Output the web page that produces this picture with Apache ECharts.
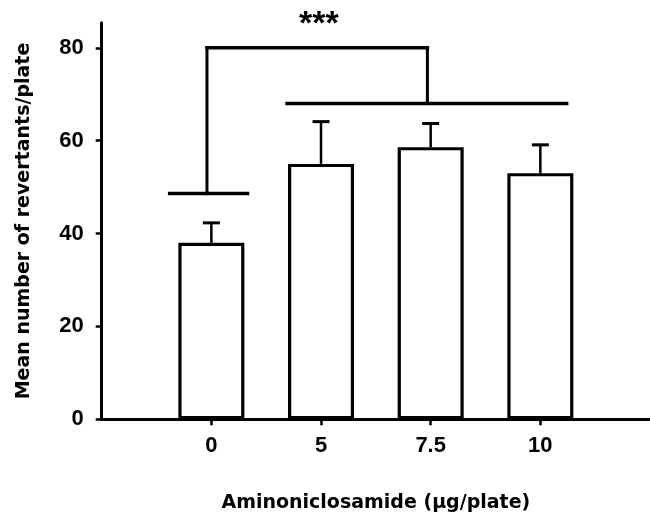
<!DOCTYPE html>
<html>
<head>
<meta charset="utf-8">
<script src="https://cdn.jsdelivr.net/npm/echarts@6/dist/echarts.min.js"></script>
<style>
html,body{margin:0;padding:0;background:#fff;}
#c{width:650px;height:515px;}
</style>
</head>
<body>
<div id="c"></div>
<script>
// ---- data ----
var doses = ['0', '5', '7.5', '10'];
var means = [38.0, 55.0, 58.6, 53.0];
var upperErr = [42.3, 64.1, 63.7, 59.1];
var yTicks = [0, 20, 40, 60, 80];
// significance bracket segments [x1, y1, x2, y2] in axis units (x = dose index)
var bracketSegs = [
  [-0.38, 48.6, 0.33, 48.6],
  [-0.04, 48.6, -0.04, 80],
  [-0.04, 80, 1.97, 80],
  [1.97, 80, 1.97, 68],
  [0.69, 68, 3.24, 68]
];
var sigText = '***';
var sigPos = [0.98, 85];

var xName = 'Aminoniclosamide (\u03bcg/plate)';
var yName = 'Mean number of revertants/plate';

var chart = echarts.init(document.getElementById('c'), null, {renderer: 'canvas'});

var barData = doses.map(function (d, i) { return [i, means[i]]; });
var errData = doses.map(function (d, i) { return [i, means[i], upperErr[i]]; });

var option = {
  backgroundColor: '#ffffff',
  animation: false,
  grid: {left: 101.7, right: 0, top: 22.7, bottom: 95.7, containLabel: false, outerBoundsMode: 'none'},
  xAxis: {
    type: 'value',
    min: -1, max: 4, interval: 1,
    name: xName,
    nameLocation: 'middle',
    nameGap: 74,
    nameTextStyle: {fontFamily: 'DejaVu Sans', fontWeight: 'bold', fontSize: 19, color: '#000'},
    axisLine: {show: true, onZero: false, lineStyle: {color: '#000', width: 3}},
    axisTick: {show: true, length: 6, lineStyle: {color: '#000', width: 2.5}, customValues: [0, 1, 2, 3]},
    axisLabel: {
      customValues: [0, 1, 2, 3],
      margin: 16,
      fontFamily: 'Liberation Sans', fontWeight: 'bold', fontSize: 22, color: '#000',
      formatter: function (v) { return doses[v] !== undefined ? doses[v] : ''; }
    },
    splitLine: {show: false}
  },
  yAxis: {
    type: 'value',
    min: 0, max: 85.4, interval: 20,
    name: yName,
    nameLocation: 'middle',
    nameGap: 68,
    nameTextStyle: {fontFamily: 'DejaVu Sans', fontWeight: 'bold', fontSize: 19, color: '#000'},
    axisLine: {show: true, onZero: false, lineStyle: {color: '#000', width: 3}},
    axisTick: {show: true, length: 6, lineStyle: {color: '#000', width: 2.5}, customValues: yTicks},
    axisLabel: {
      customValues: yTicks,
      margin: 18,
      fontFamily: 'Liberation Sans', fontWeight: 'bold', fontSize: 22, color: '#000'
    },
    splitLine: {show: false}
  },
  series: [
    {
      type: 'bar',
      data: barData,
      barWidth: 66,
      itemStyle: {color: '#ffffff', borderColor: '#000', borderWidth: 3.2},
      z: 2
    },
    {
      type: 'custom',
      data: errData,
      z: 3,
      renderItem: function (params, api) {
        var x = api.value(0);
        var p0 = api.coord([x, api.value(1)]);
        var p1 = api.coord([x, api.value(2)]);
        var half = 8.5;
        return {
          type: 'group',
          children: [
            {type: 'line', shape: {x1: p0[0], y1: p0[1], x2: p1[0], y2: p1[1]}, style: {stroke: '#000', lineWidth: 2.5}},
            {type: 'line', shape: {x1: p1[0] - half, y1: p1[1], x2: p1[0] + half, y2: p1[1]}, style: {stroke: '#000', lineWidth: 3}}
          ]
        };
      }
    },
    {
      type: 'custom',
      data: bracketSegs,
      z: 4,
      clip: false,
      renderItem: function (params, api) {
        var a = api.coord([api.value(0), api.value(1)]);
        var b = api.coord([api.value(2), api.value(3)]);
        var horiz = api.value(1) === api.value(3);
        return {type: 'line', shape: {x1: a[0], y1: a[1], x2: b[0], y2: b[1]},
          style: {stroke: '#000', lineWidth: horiz ? 3.5 : 3, lineCap: 'square'}};
      }
    },
    {
      type: 'custom',
      data: [sigPos],
      z: 5,
      clip: false,
      renderItem: function (params, api) {
        var p = api.coord([api.value(0), api.value(1)]);
        return {type: 'text', x: p[0], y: p[1],
          style: {text: sigText, fill: '#000', font: 'bold 34px "Liberation Sans"', align: 'center', verticalAlign: 'middle'}};
      }
    }
  ]
};
chart.setOption(option);
</script>
</body>
</html>
